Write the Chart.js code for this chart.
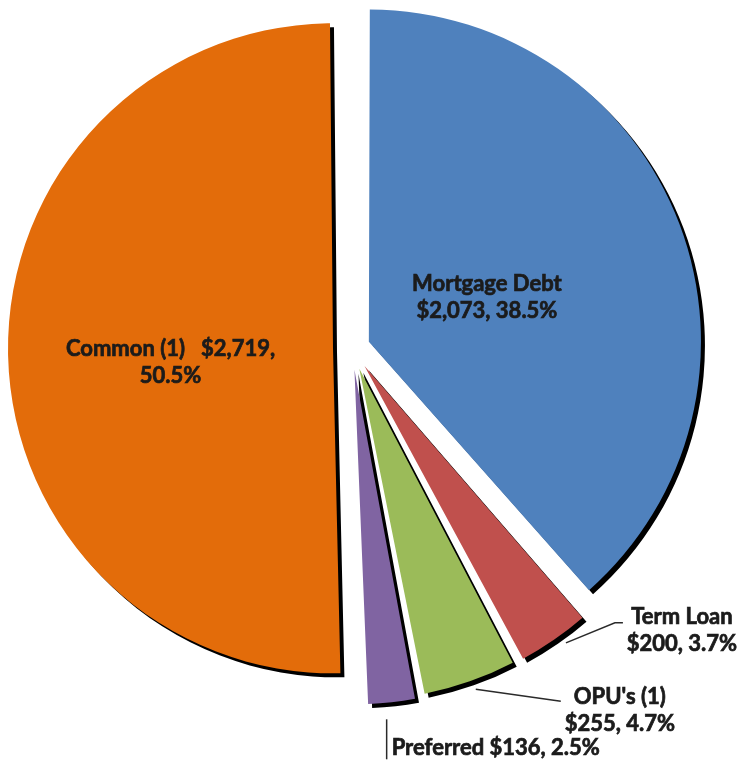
<!DOCTYPE html>
<html>
<head>
<meta charset="utf-8">
<script src="https://cdn.jsdelivr.net/npm/chart.js@4.4.1/dist/chart.umd.min.js"></script>
<style>
  html, body { margin: 0; padding: 0; background: #fff; }
  #wrap { width: 752px; height: 768px; }
</style>
</head>
<body>
<div id="wrap"><canvas id="pie" width="752" height="768"></canvas></div>
<script>
const categories = ['Mortgage Debt', 'Term Loan', "OPU's (1)", 'Preferred', 'Common (1)'];
const amounts = [2073, 200, 255, 136, 2719];
const percents = [38.5, 3.7, 4.7, 2.5, 50.5];

const sliceColors = ['#4F81BD', '#C0504D', '#9BBB59', '#8064A2', '#E36C0A'];
// chart.js moves a slice out by offset/4 px
const explode = [72, 88, 88, 88, 76];
// extra px of radius per slice (the blue one is drawn bigger in the original)
const radiusExtra = [20, 10, 10, 10, 0];

const money = n => '$' + n.toLocaleString('en-US');
const pct = p => p.toFixed(1) + '%';

const labelLines = [
  [categories[0], money(amounts[0]) + ', ' + pct(percents[0])],
  [categories[1], money(amounts[1]) + ', ' + pct(percents[1])],
  [categories[2], money(amounts[2]) + ', ' + pct(percents[2])],
  [categories[3] + ' ' + money(amounts[3]) + ', ' + pct(percents[3])],
  [categories[4] + '   ' + money(amounts[4]) + ',', pct(percents[4])]
];

// where each label goes, relative to its slice
const labelSpots = [
  { kind: 'inside', frac: 0.38, dx: 0, dy: 0 },
  { kind: 'outside', lead: [[12, 3], [61, -17], [69, -17]], tx: 128, ty: -23, align: 'center' },
  { kind: 'outside', lead: [[6, 8], [91, 20]], tx: 150, ty: 16, align: 'center' },
  { kind: 'outside', lead: [[-5, 17], [-5, 57]], tx: 0, ty: 46, align: 'left' },
  { kind: 'inside', frac: 0.5, dx: 0, dy: 11 }
];

function sliceGeom(arc, i) {
  const p = arc.getProps(['x', 'y', 'startAngle', 'endAngle', 'outerRadius'], true);
  const mid = (p.startAngle + p.endAngle) / 2;
  const shift = explode[i] / 4;
  const circ = p.endAngle - p.startAngle;
  const grow = shift * (1 - Math.sin(Math.min(Math.PI, circ)));
  return {
    ax: p.x + Math.cos(mid) * shift,
    ay: p.y + Math.sin(mid) * shift,
    mid: mid,
    r: p.outerRadius + grow
  };
}

const sliceRadiusPlugin = {
  id: 'sliceRadius',
  afterDatasetUpdate(chart, args) {
    const meta = chart.getDatasetMeta(args.index);
    meta.data.forEach((arc, i) => { arc.outerRadius += radiusExtra[i] || 0; });
  }
};

const shadowPlugin = {
  id: 'dropShadow',
  beforeDatasetsDraw(chart) {
    const ctx = chart.ctx;
    ctx.save();
    ctx.shadowColor = '#000';
    ctx.shadowBlur = 0;
    ctx.shadowOffsetX = 4;
    ctx.shadowOffsetY = 4;
  },
  afterDatasetsDraw(chart) {
    chart.ctx.restore();
  }
};

const labelPlugin = {
  id: 'sliceLabels',
  afterDraw(chart) {
    const ctx = chart.ctx;
    const meta = chart.getDatasetMeta(0);
    const lineH = 27;
    ctx.save();
    ctx.font = 'bold 22px Lato, "Open Sans", sans-serif';
    ctx.fillStyle = '#1b1b1b';
    ctx.textBaseline = 'middle';
    const put = (t, x, y) => {
      ctx.lineWidth = 0.7;
      ctx.strokeStyle = '#1b1b1b';
      ctx.strokeText(t, x, y);
      ctx.fillText(t, x, y);
    };
    meta.data.forEach((arc, i) => {
      const g = sliceGeom(arc, i);
      const spot = labelSpots[i];
      const lines = labelLines[i];
      if (spot.kind === 'inside') {
        const cx = g.ax + Math.cos(g.mid) * g.r * spot.frac + spot.dx;
        const cy = g.ay + Math.sin(g.mid) * g.r * spot.frac + spot.dy;
        ctx.textAlign = 'center';
        lines.forEach((t, k) => {
          put(t, cx, cy + (k - (lines.length - 1) / 2) * lineH);
        });
      } else {
        const ox = g.ax + Math.cos(g.mid) * g.r;
        const oy = g.ay + Math.sin(g.mid) * g.r;
        ctx.beginPath();
        spot.lead.forEach((pt, k) => {
          if (k === 0) ctx.moveTo(ox + pt[0], oy + pt[1]);
          else ctx.lineTo(ox + pt[0], oy + pt[1]);
        });
        ctx.lineWidth = 1.5;
        ctx.strokeStyle = '#2a2a2a';
        ctx.stroke();
        ctx.textAlign = spot.align;
        lines.forEach((t, k) => {
          put(t, ox + spot.tx, oy + spot.ty + k * lineH);
        });
      }
    });
    ctx.restore();
  }
};

new Chart(document.getElementById('pie'), {
  type: 'pie',
  data: {
    labels: categories,
    datasets: [{
      data: amounts,
      backgroundColor: sliceColors,
      borderWidth: 0,
      offset: explode
    }]
  },
  options: {
    responsive: false,
    animation: false,
    radius: 306,
    layout: { padding: { left: 0, right: 48, top: 0, bottom: 72 } },
    plugins: {
      legend: { display: false },
      tooltip: { enabled: false }
    }
  },
  plugins: [sliceRadiusPlugin, shadowPlugin, labelPlugin]
});
</script>
</body>
</html>
